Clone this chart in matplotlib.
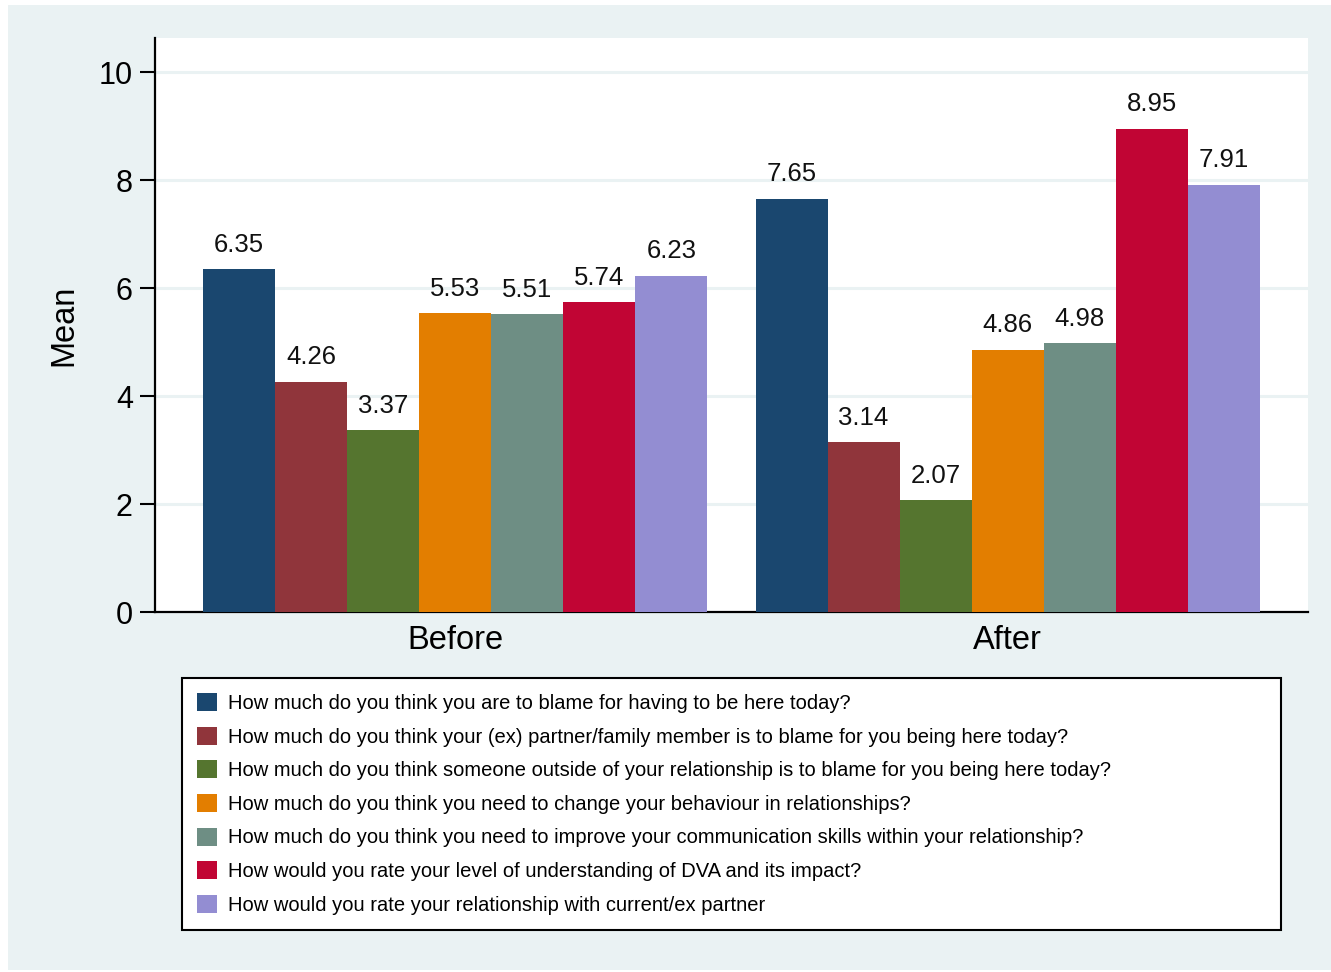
import matplotlib
matplotlib.use("Agg")
import matplotlib.pyplot as plt
from matplotlib.patches import Rectangle
import numpy as np

plt.rcParams['font.family'] = ['Liberation Sans', 'DejaVu Sans']

groups = ["Before", "After"]
questions = [
    "How much do you think you are to blame for having to be here today?",
    "How much do you think your (ex) partner/family member is to blame for you being here today?",
    "How much do you think someone outside of your relationship is to blame for you being here today?",
    "How much do you think you need to change your behaviour in relationships?",
    "How much do you think you need to improve your communication skills within your relationship?",
    "How would you rate your level of understanding of DVA and its impact?",
    "How would you rate your relationship with current/ex partner",
]
before = [6.35, 4.26, 3.37, 5.53, 5.51, 5.74, 6.23]
after = [7.65, 3.14, 2.07, 4.86, 4.98, 8.95, 7.91]
colors = ["#1A476F", "#90353B", "#55752F", "#E37E00", "#6E8E84", "#C10534", "#938DD2"]

bg = "#EAF2F3"
W, H = 1331, 972
fig = plt.figure(figsize=(W / 100, H / 100), dpi=100)
fig.patch.set_facecolor("white")
fig.patches.append(Rectangle((8 / W, 2 / H), (W - 8) / W, (H - 7) / H,
                             transform=fig.transFigure, facecolor=bg,
                             edgecolor="none", zorder=-10))

ax = fig.add_axes([155 / W, (H - 612) / H, (1308 - 155) / W, (612 - 38) / H])
ax.set_facecolor("white")

n = len(questions)
gap = 0.667
starts = [0, n + gap]
for g, vals in enumerate([before, after]):
    xs = starts[g] + np.arange(n) + 0.5
    for i in range(n):
        ax.bar(xs[i], vals[i], width=1.0, color=colors[i], linewidth=0,
               label=questions[i] if g == 0 else None, zorder=3)
        ax.annotate(f"{vals[i]:.2f}", (xs[i], vals[i]), xytext=(0, 9),
                    textcoords="offset points", ha="center", va="bottom",
                    fontsize=18.5, color="#111111", zorder=4)

ax.set_xlim(-gap, 2 * n + 2 * gap)
ax.set_ylim(0, 10.63)
ax.set_yticks([0, 2, 4, 6, 8, 10])
ax.tick_params(axis="y", labelsize=22, length=11, width=1.5, pad=5)
ax.set_xticks([starts[0] + n / 2, starts[1] + n / 2])
ax.set_xticklabels(groups, fontsize=23.5)
ax.tick_params(axis="x", length=0, pad=9)
ax.set_ylabel("Mean", fontsize=23.5, labelpad=14)

for y in [2, 4, 6, 8, 10]:
    ax.axhline(y, color=bg, linewidth=2.2, zorder=1)

for s in ["top", "right"]:
    ax.spines[s].set_visible(False)
for s in ["left", "bottom"]:
    ax.spines[s].set_linewidth(1.6)
    ax.spines[s].set_color("black")

leg = fig.legend(loc="upper left",
                 bbox_to_anchor=(182 / W, (H - 930) / H, (1281 - 182) / W, (930 - 678) / H),
                 mode="expand", borderaxespad=0, fontsize=14.5, frameon=True,
                 fancybox=False, edgecolor="black", framealpha=1,
                 handlelength=1.0, handleheight=1.0, handletextpad=0.55,
                 labelspacing=0.68, borderpad=0.75)
leg.get_frame().set_linewidth(1.5)

fig.savefig("out.png", dpi=100, facecolor=fig.get_facecolor())
